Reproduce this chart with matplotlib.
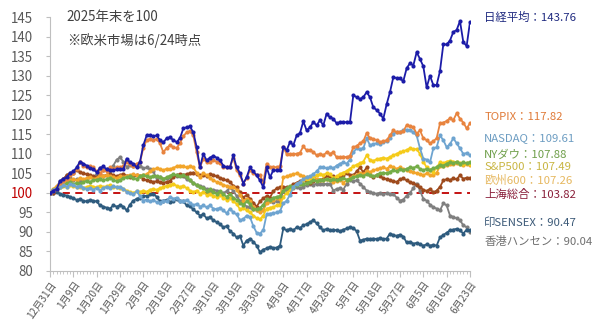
import matplotlib
matplotlib.use("Agg")
import matplotlib.pyplot as plt
import numpy as np

plt.rcParams['font.family'] = ['Noto Sans CJK JP', 'DejaVu Sans']

tick_labels = ["12月31日", "1月9日", "1月20日", "1月29日", "2月9日", "2月18日", "2月27日",
               "3月10日", "3月19日", "3月30日", "4月8日", "4月17日", "4月28日", "5月7日",
               "5月18日", "5月27日", "6月5日", "6月16日", "6月23日"]
tick_pos = [0, 7, 14, 21, 28, 35, 42, 49, 56, 63, 70, 77, 84, 91, 98, 105, 112, 119, 126]

nikkei = [100, 100.5, 101, 103, 103.5, 104, 105, 105.5, 106.5, 108, 107.5, 107, 106.3, 106, 105.3,
          106.3, 106.8, 106, 105.8, 105.8, 106, 106, 106, 108.8, 107.8, 107.5, 106.5, 108, 112.2, 114.7,
          114.7, 114.5, 114.7, 113.5, 112.9, 114, 114.2, 113.5, 113, 114, 116.5, 116.8, 117, 115.5, 111.7,
          106.5, 110, 108.3, 109, 109.5, 109, 108.3, 107, 106.5, 106.5, 109.6, 106.5, 105, 102.4, 104,
          106.5, 105.5, 104.5, 103.2, 101.4, 106.5, 104, 105.8, 105.8, 105.8, 111.8, 110.9, 113, 112.2, 114.7,
          115.3, 118.3, 116, 116.8, 118.1, 117.3, 118.6, 117.3, 120.3, 119.3, 119, 117.8, 118.1, 118.1, 118.1,
          118.1, 125, 124.5, 124, 124.5, 125.8, 124.5, 121.9, 121.2, 120.3, 119, 122.7, 125.8, 129.6, 129.4,
          129.3, 128.6, 131.9, 133.2, 132.6, 136, 134.3, 132.4, 127, 130, 127.6, 127.6, 131.2, 138, 138,
          139, 141.2, 141.7, 144, 138.6, 137.6, 143.76]

topix = [100, 100.5, 101, 102.5, 103, 103.5, 104.5, 105, 106, 107.8, 107, 106.5, 106.8, 106.5, 105.5,
         105, 105.8, 105.5, 106.5, 106.2, 106.5, 106.5, 106.8, 107.8, 107.5, 107, 107.5, 107.8, 111.5, 113.5,
         113.8, 113.5, 113.8, 112.7, 110.4, 111.5, 112.2, 111.7, 111.5, 112.7, 114.5, 115.5, 115.8, 114.7, 110.4,
         106.5, 108.8, 107.9, 108, 108.3, 108, 107.7, 106.7, 106.5, 106.7, 109, 105.8, 104.5, 102.4, 103.8,
         105.8, 105, 104.5, 104.5, 102.8, 107.5, 106.5, 106.7, 106.5, 106.8, 111.7, 110, 109.9, 110, 110,
         110.3, 111.9, 110.9, 110.9, 110.5, 109.6, 110, 109.6, 110.4, 110, 110.4, 109.1, 109.1, 109.3, 109.1,
         109.5, 111.7, 112, 112.7, 113.2, 115.3, 114, 113.8, 113.5, 113, 113.2, 113.5, 114.7, 116, 115.5,
         115.5, 115.8, 117.3, 117, 116.8, 115.2, 116, 114, 113.5, 112.7, 113.2, 114, 117.8, 118, 118.4,
         119.1, 118.6, 120.4, 119, 118, 116.5, 117.82]

nasdaq = [100, 100.8, 101.2, 101.5, 102, 101.6, 102.2, 102, 101.5, 101.8, 101.3, 101, 101.2, 100.8, 101.3,
          100.6, 101.2, 101.6, 101.3, 101.8, 101.4, 101.6, 101, 100.3, 100, 99.6, 100.4, 99.2, 98, 98.3,
          97.8, 98.2, 97.6, 97.5, 98, 97.8, 99, 98.5, 98.8, 98, 97.9, 98.2, 97.5, 96.8, 97.2,
          96.5, 96.8, 96.3, 96.8, 96, 95.8, 96.2, 95.5, 94.8, 96, 95, 94.5, 93, 93.3, 94.2,
          93.8, 91.5, 89.8, 89.6, 90.5, 94.5, 94.7, 94.8, 95, 95.3, 97.3, 98, 99.5, 101.5, 102.4,
          102.8, 103.5, 104, 104.2, 104.8, 105.5, 106.5, 106.6, 106.3, 106.5, 106.3, 107, 107.5, 107.8, 107.5,
          108.5, 110.4, 111.4, 111.2, 111.4, 114, 112.2, 112.5, 112.7, 112.4, 113, 113.2, 114, 115.2, 115.5,
          115.5, 116, 116.2, 116, 115.5, 114.7, 111.4, 108.8, 108.5, 107.8, 111.4, 111.7, 114.7, 113.5, 111.7,
          112.5, 114, 112.7, 111.4, 110, 110.2, 109.61]

nydow = [100, 100.8, 101.2, 101.5, 102, 102.5, 102.8, 102.2, 102.6, 102.4, 102.8, 103, 102.8, 103.2, 103.4,
         103.6, 103.2, 103.5, 103.8, 103.4, 103, 103.3, 103.8, 104, 104.2, 103.8, 103.5, 104.2, 104.5, 104.2,
         104, 104.4, 104.3, 104, 103.6, 104, 104.4, 104.8, 104.5, 104.2, 104.6, 104, 103.2, 102.5, 102,
         101.5, 101.2, 100.5, 101, 100.2, 99.8, 100.4, 99.6, 99, 99.8, 98.8, 98.2, 97.5, 97, 97.8,
         97.2, 96, 95.8, 96.2, 97, 98.5, 98.2, 98.8, 99, 99.2, 100.6, 101.2, 101.8, 101.4, 102,
         102.4, 102.2, 102.6, 102.8, 103.2, 103, 103.4, 103.2, 103.6, 103.3, 103.5, 103.2, 103.6, 103.8, 103.4,
         103.6, 104, 104.2, 104.6, 104.3, 104.8, 104.5, 104.2, 104.6, 105, 105.2, 105, 105.4, 105.8, 105.5,
         106, 105.8, 106.2, 106.5, 106.4, 106.8, 106.2, 105.8, 106.2, 105.9, 106.3, 106.6, 107.2, 107, 107.5,
         107.8, 107.6, 108, 107.5, 107.8, 107.6, 107.88]

sp500 = [100, 100.8, 101.2, 101.6, 101.8, 101.5, 102, 101.8, 101.5, 101.6, 101.3, 101.5, 101.8, 101.6, 101.4,
         101.8, 101.5, 101.7, 101.9, 101.6, 101.4, 101.2, 101, 100.6, 100.2, 100, 100.4, 100.2, 100.6, 100.3,
         100.8, 101, 100.8, 101.2, 101.5, 101.8, 102, 102.3, 101.8, 101.5, 101.8, 101.2, 100.6, 100.2, 100.6,
         99.8, 100.2, 99.5, 99.8, 99.2, 99, 99.4, 98.8, 98.2, 98.8, 97.8, 97.2, 95.8, 96.2, 95.5,
         95, 94.2, 93.5, 93.2, 94.2, 96, 96.2, 96.4, 96.8, 97, 99, 100, 100.8, 101.5, 102.2,
         102.6, 103.2, 103.5, 103.8, 104.2, 104.5, 104.8, 104.6, 105, 104.8, 103.8, 104.2, 104.8, 105.2, 105.6,
         106.2, 106.8, 107.2, 107.6, 108, 109.6, 108.4, 108.2, 108.6, 108.8, 109, 108.8, 109.2, 109.6, 110,
         110.4, 110.6, 111, 111.4, 111.2, 111.2, 110, 108, 106.5, 105.8, 105.3, 106.5, 107.8, 107.6, 108,
         108.2, 108, 107.8, 107.6, 107.5, 107.6, 107.49]

stoxx600 = [100, 101, 101.8, 102.5, 103, 102.8, 103.2, 103.5, 103.2, 103.8, 103.5, 103.8, 104, 103.6, 103.8,
            104.5, 104.2, 104.6, 104.3, 104, 103.8, 104.2, 104, 104.4, 104.5, 104.8, 104.5, 104.2, 104.6, 104.8,
            105.5, 106, 106.3, 106, 105.8, 106.2, 106, 106.4, 106.8, 107, 106.8, 106.5, 106.8, 106.5, 105.2,
            104, 105, 104.6, 103.8, 103.2, 102.8, 102.5, 102, 101.8, 101.4, 101.6, 100.8, 99.5, 98, 98.5,
            97.8, 96.5, 95.5, 95, 95.6, 97.3, 97.8, 98.2, 98.8, 98.5, 104, 104.2, 104.5, 104.8, 105,
            104.6, 104.3, 104, 103.8, 104.2, 103.6, 103.4, 103.2, 103.5, 103.2, 102.8, 103, 103.4, 102.6, 103.2,
            103.8, 104.2, 104.6, 105, 104.8, 105.5, 105.3, 105.8, 106, 106.3, 106.5, 106.2, 106.8, 106.5, 106.2,
            106.5, 106, 105.8, 105.5, 105.3, 105, 104.8, 104.5, 105, 104.6, 104.5, 105.2, 106.8, 107, 107.2,
            107.5, 107.3, 107.6, 107.4, 107.2, 107.3, 107.26]

shanghai = [100, 100, 101.5, 102.5, 103.5, 104.5, 105, 105.2, 105.8, 105.3, 105, 104.8, 104.5, 104.2, 104,
            104.5, 104.3, 104.6, 104.8, 104.5, 104.2, 104.6, 104.8, 104.4, 104, 104.2, 104.5, 104.3, 103.6, 103.2,
            103, 102.8, 103, 102.8, 102.6, 102.8, 103, 104, 104.5, 104.8, 104.6, 104.8, 105, 105.2, 104.8,
            104.5, 104.6, 104.3, 104.8, 104.6, 104.2, 103.8, 103.5, 103.2, 102.8, 101.8, 101.4, 100.2, 98.8, 99.5,
            98.5, 97.5, 96.5, 97.8, 98.6, 99.2, 98.8, 100.4, 101.2, 101.4, 101.6, 101.4, 101.6, 102.2, 102.6,
            103, 103.2, 102.8, 102.6, 103, 103.4, 103.2, 103.6, 104.2, 104.4, 104.2, 103.8, 104, 104.5, 105,
            104.6, 104.5, 105.5, 106.5, 105.3, 106.5, 104.5, 104, 104.5, 104.2, 103.8, 103.5, 103.2, 103, 102.8,
            103.5, 103.7, 103.2, 102.7, 102.5, 102, 101.4, 100.8, 100.5, 101, 100.1, 100.6, 101.5, 103.2, 103.5,
            103.3, 103.7, 103.5, 104.5, 103.6, 103.9, 103.82]

sensex = [100, 100, 100.2, 99.8, 99.5, 99.3, 99, 98.6, 98.2, 98.4, 98, 97.8, 98.2, 98, 97.8,
          96.8, 96.5, 96.2, 96, 96.8, 96.5, 96.8, 96.5, 95.5, 97, 98, 98.5, 98.8, 99.3, 99.2,
          99.6, 99.8, 99, 97.8, 98, 98.2, 97.6, 98, 98.4, 98, 97.8, 96.8, 96.6, 95.8, 95,
          94.2, 94.5, 93.5, 93.8, 93, 92.5, 92, 91.2, 91.5, 90.2, 89.6, 88.6, 89, 86.5, 87.8,
          88.3, 87.5, 86.5, 84.8, 85.5, 85.8, 86.2, 85.9, 86, 86.5, 90.9, 90.4, 90.8, 90.4, 91.2,
          91, 91.7, 92, 92.5, 93, 92.2, 91.2, 90.4, 90.8, 90.4, 90.6, 90.4, 90.2, 90.6, 90.9,
          91.2, 91, 90.2, 87.8, 88, 88.3, 88.2, 88.3, 88.2, 88.4, 88.2, 88.3, 89.6, 89.2, 89,
          89.3, 88.8, 87.3, 87.5, 87, 87.2, 86.8, 86.5, 86.8, 86.5, 86.7, 86.5, 88.6, 89.2, 89.8,
          90.4, 90.6, 90.8, 90.4, 89.6, 90.6, 90.47]

hangseng = [100, 100.2, 101.5, 103, 103.5, 104.5, 103.8, 103.2, 103.5, 103, 103.3, 103.5, 104.2, 104, 104.8,
            106.3, 105.8, 106, 105.5, 107, 108.5, 109.1, 108, 106.6, 107.2, 107, 106.8, 107, 106.3, 106.5,
            106, 105.5, 103.7, 104, 103.5, 103.8, 104, 104.5, 104.3, 104.5, 104.2, 103.5, 103.2, 102.5, 102,
            101.8, 101.4, 101, 100.6, 100.8, 100.6, 100.2, 100, 100.4, 101.4, 100.5, 99.2, 98, 97.3, 96.5,
            96.3, 95.8, 95.5, 96, 95.6, 98, 97.8, 97.6, 97.9, 97.6, 100.6, 100.8, 101, 101.2, 101.4,
            101.2, 101.6, 102, 102.2, 102, 102.4, 102.2, 102.4, 102.2, 102.3, 100.6, 101, 101.2, 100.8, 102.4,
            103.2, 103, 103.2, 102.4, 101.5, 100.6, 100.2, 99.9, 99.8, 100, 99.8, 99.9, 99.8, 99.7, 98.8,
            98, 98.3, 99.3, 100, 101.2, 102.4, 100.6, 98.5, 98, 97, 96.3, 96, 95.5, 97.3, 96.8,
            94.2, 93.8, 93.5, 93, 91.7, 91.2, 90.04]

series = [
    ("日経平均", nikkei, "#1c1ca8", "#1f2a80", 144.8),
    ("TOPIX", topix, "#e8843f", "#e07b39", 119.3),
    ("NASDAQ", nasdaq, "#6ea4d0", "#6d9dc2", 113.9),
    ("NYダウ", nydow, "#74ad48", "#6f9f4a", 109.9),
    ("S&P500", sp500, "#f5cb1a", "#c9b643", 106.7),
    ("欧州600", stoxx600, "#f2a52a", "#e6b860", 103.2),
    ("上海総合", shanghai, "#9e4a1c", "#8a1f3a", 99.6),
    ("印SENSEX", sensex, "#2e5b7e", "#3c5a78", 92.3),
    ("香港ハンセン", hangseng, "#7f7f7f", "#6f6f6f", 87.6),
]

fig = plt.figure(figsize=(6.0, 3.23), dpi=100)
ax = fig.add_axes([0.0833, 0.161, 0.70, 0.786])

x = np.arange(len(nikkei))
ax.axhline(100, color="#c00000", lw=1.3, ls=(0, (4, 3)), zorder=1)
order = [8, 7, 6, 5, 4, 3, 2, 1, 0]
for i in order:
    name, vals, lc, tc, ly = series[i]
    ax.plot(x, vals, color=lc, lw=1.3, marker="o", ms=3.0, mew=0, zorder=3 + (9 - i) * 0.01)

for name, vals, lc, tc, ly in series:
    ax.text(130.3, ly, f"{name}：{vals[-1]:.2f}", color=tc, fontsize=8.2, va="center", ha="left",
            clip_on=False)

ax.set_xlim(0, 126)
ax.set_ylim(80, 145)
ax.set_yticks(np.arange(80, 146, 5))
ax.set_xticks(tick_pos)
ax.set_xticklabels(tick_labels, rotation=55, ha="right", rotation_mode="anchor", fontsize=7.3,
                   color="#595959")
ax.set_xticks(np.arange(0, 127, 1), minor=True)
ax.tick_params(axis="x", which="major", length=4, color="#bfbfbf", pad=2)
ax.tick_params(axis="x", which="minor", length=2.5, color="#bfbfbf")
ax.tick_params(axis="y", length=3, color="#bfbfbf", labelsize=9.6, labelcolor="#595959", pad=9)
for lbl in ax.get_yticklabels():
    if lbl.get_text() == "100":
        lbl.set_color("#c00000")
for s in ["top", "right"]:
    ax.spines[s].set_visible(False)
for s in ["left", "bottom"]:
    ax.spines[s].set_color("#bfbfbf")
    ax.spines[s].set_linewidth(0.8)

ax.text(5, 145, "2025年末を100", fontsize=9.6, color="#404040", va="center", ha="left")
ax.text(5, 139.1, "※欧米市場は6/24時点", fontsize=9.6, color="#404040", va="center", ha="left")

fig.savefig("out.png", dpi=100)
